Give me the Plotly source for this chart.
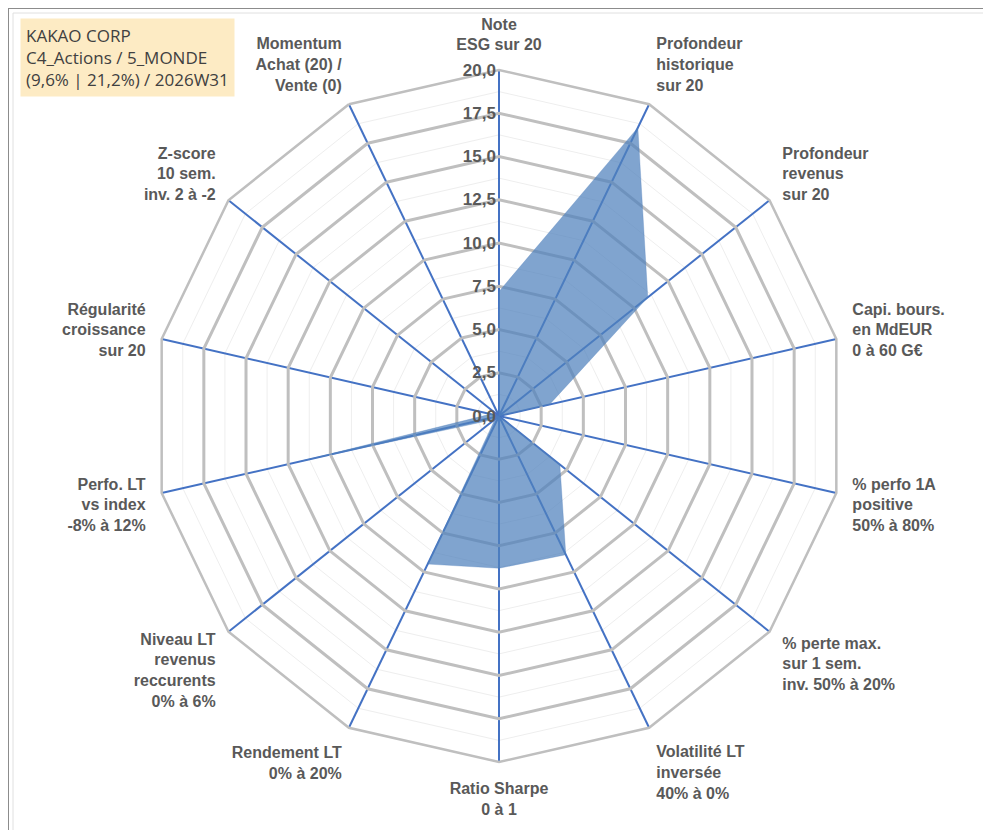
import plotly.graph_objects as go

# axes of the radar, clockwise from the top
criteres = [
    "Note<br>ESG sur 20",
    "Profondeur<br>historique<br>sur 20",
    "Profondeur<br>revenus<br>sur 20",
    "Capi. bours.<br>en MdEUR<br>0 à 60 G€",
    "% perfo 1A<br>positive<br>50% à 80%",
    "% perte max.<br>sur 1 sem.<br>inv. 50% à 20%",
    "Volatilité LT<br>inversée<br>40% à 0%",
    "Ratio Sharpe<br>0 à 1",
    "Rendement LT<br>0% à 20%",
    "Niveau LT<br>revenus<br>reccurents<br>0% à 6%",
    "Perfo. LT<br>vs index<br>-8% à 12%",
    "Régularité<br>croissance<br>sur 20",
    "Z-score<br>10 sem.<br>inv. 2 à -2",
    "Momentum<br>Achat (20) /<br>Vente (0)",
]
notes = [7.2, 18.5, 11.0, 3.0, 0.0, 4.5, 8.9, 8.8, 9.5, 0.3, 11.7, 0.5, 0.0, 0.0]

titre = ["KAKAO CORP", "C4_Actions / 5_MONDE", "(9,6% | 21,2%) / 2026W31"]

W, H = 991, 830
cx, cy, R = 491, 408, 346

grey_txt = "#595959"
label_font = dict(family="Liberation Sans", size=16, color=grey_txt, weight="bold")

fig = go.Figure()

# invisible trace so the lower subplot (minor grid) gets drawn
fig.add_trace(go.Scatterpolar(
    r=notes, theta=criteres, mode="lines", opacity=0,
    hoverinfo="skip", showlegend=False, subplot="polar"))

fig.add_trace(go.Scatterpolar(
    r=notes + notes[:1],
    theta=criteres + criteres[:1],
    mode="lines",
    fill="toself",
    fillcolor="rgba(79,129,189,0.72)",
    line=dict(color="rgba(79,129,189,0.6)", width=0.5),
    showlegend=False,
    subplot="polar2"))

dom = dict(x=[(cx - R) / W, (cx + R) / W],
           y=[(H - cy - R) / H, (H - cy + R) / H])

fig.update_layout(
    width=W, height=H,
    margin=dict(l=0, r=0, t=0, b=0),
    paper_bgcolor="white",
    separators=",.",
    polar=dict(
        domain=dom, gridshape="linear", bgcolor="white",
        radialaxis=dict(range=[0, 20], dtick=1.25, showticklabels=False,
                        ticks="", showline=False,
                        gridcolor="#EEEEEE", gridwidth=1),
        angularaxis=dict(rotation=90, direction="clockwise",
                         showticklabels=False, ticks="", showline=False,
                         showgrid=False),
    ),
    polar2=dict(
        domain=dom, gridshape="linear", bgcolor="rgba(0,0,0,0)",
        radialaxis=dict(range=[0, 20], dtick=2.5, tickformat=".1f",
                        angle=90, tickangle=90, side="counterclockwise",
                        ticks="", showline=False,
                        gridcolor="#BFBFBF", gridwidth=2.5,
                        tickfont=dict(family="Liberation Sans", size=17,
                                      color=grey_txt, weight="bold")),
        angularaxis=dict(rotation=90, direction="clockwise",
                         gridcolor="#4472C4", gridwidth=1.5,
                         showline=True, linecolor="#BFBFBF", linewidth=2.5,
                         ticks="outside", ticklen=12,
                         tickcolor="rgba(0,0,0,0)",
                         tickfont=label_font),
    ),
)

fig.add_annotation(
    text="<br>".join(titre),
    xref="paper", yref="paper", x=12 / W, y=1 - 10 / H,
    xanchor="left", yanchor="top", align="left", showarrow=False,
    bgcolor="#FDEBC4", borderpad=5,
    font=dict(family="Open Sans", size=17, color="#404040"))

# frame of the chart
fig.add_shape(type="rect", xref="paper", yref="paper", x0=0, y0=0, x1=1, y1=1,
              line=dict(color="#8C8C8C", width=2))
fig.add_shape(type="rect", xref="paper", yref="paper",
              x0=5 / W, y0=1 - 824 / H, x1=980 / W, y1=1 - 5 / H,
              line=dict(color="#E0E0E0", width=1))

fig.write_html("out.html")
